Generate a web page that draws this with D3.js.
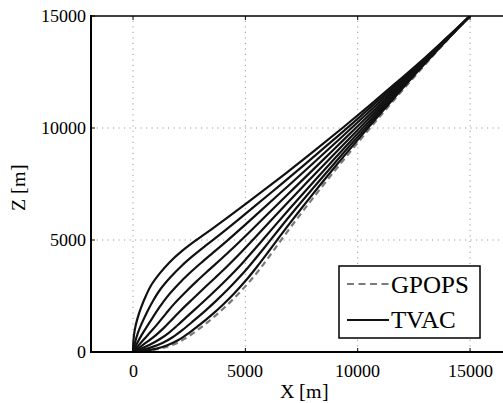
<!DOCTYPE html>
<html>
<head>
<meta charset="utf-8">
<script src="https://cdn.jsdelivr.net/npm/d3@7"></script>
<style>
  @font-face { font-family: "LocSerif"; src: local("Liberation Serif"), local("LiberationSerif"), local("LiberationSerif-Regular"); }
  html, body { margin: 0; padding: 0; background: #fff; }
  svg { display: block; }
  svg text { font-family: "LocSerif", "Liberation Serif", serif; }
</style>
</head>
<body>
<svg id="chart" width="503" height="403"></svg>
<script>
// ---- data ----
const xTicks = [0, 5000, 10000, 15000];
const zTicks = [0, 5000, 10000, 15000];
const xLabel = "X [m]";
const zLabel = "Z [m]";
const legendLabels = ["GPOPS", "TVAC"];

// TVAC trajectories, [X, Z] in metres, top (steep start) to bottom (shallow start)
const tvac1 = [[0,0],[18,500],[80,1000],[200,1500],[365,2000],[570,2500],[820,3000],[1180,3500],[1620,4000],[2170,4500],[2820,5000],[3520,5500],[4200,6000],[5530,7000],[6830,8000],[8090,9000],[9320,10000],[10520,11000],[11690,12000],[12840,13000],[13930,14000],[15000,15000]];
const tvac2 = [[0,0],[87,413],[225,875],[414,1336],[639,1811],[900,2300],[1210,2790],[1664,3336],[2159,3841],[2690,4310],[3244,4756],[3807,5193],[4636,5864],[5458,6542],[6549,7451],[7634,8366],[8710,9290],[9780,10220],[11106,11394],[12421,12579],[13717,13783],[15000,15000]];
const tvac3 = [[0,0],[157,343],[367,733],[616,1134],[889,1561],[1187,2013],[1526,2474],[1997,3003],[2498,3502],[3025,3975],[3564,4436],[4105,4895],[4900,5600],[5688,6312],[6737,7263],[7785,8215],[8828,9172],[9868,10132],[11163,11337],[12452,12548],[13728,13772],[15000,15000]];
const tvac4 = [[0,0],[227,273],[508,592],[817,933],[1139,1311],[1474,1726],[1840,2160],[2331,2669],[2838,3162],[3358,3642],[3883,4117],[4403,4597],[5165,5335],[5918,6082],[6925,7075],[7936,8064],[8946,9054],[9957,10043],[11220,11280],[12482,12518],[13739,13761],[15000,15000]];
const tvac5 = [[0,0],[292,208],[640,460],[1006,744],[1373,1077],[1743,1457],[2136,1864],[2644,2356],[3156,2844],[3672,3328],[4183,3817],[4683,4317],[5413,5087],[6134,5866],[7101,6899],[8077,7923],[9056,8944],[10040,9960],[11274,11226],[12511,12489],[13750,13750],[15000,15000]];
const tvac6 = [[0,0],[353,147],[764,336],[1182,568],[1592,858],[1994,1206],[2411,1589],[2935,2065],[3453,2547],[3964,3036],[4462,3538],[4944,4056],[5644,4856],[6335,5665],[7266,6734],[8209,7791],[9160,8840],[10117,9883],[11323,11177],[12538,12462],[13759,13741],[15000,15000]];
const tvac7 = [[0,0],[406,94],[870,230],[1333,417],[1779,671],[2209,991],[2648,1352],[3186,1814],[3708,2292],[4214,2786],[4701,3299],[5168,3832],[5843,4657],[6508,5492],[7407,6593],[8323,7677],[9248,8752],[10184,9816],[11366,11134],[12561,12439],[13768,13732],[15000,15000]];
const tvac8 = [[0,0],[500,51],[1000,139],[1500,287],[2000,522],[2500,857],[3000,1240],[3500,1656],[4000,2112],[4500,2612],[5000,3166],[5500,3784],[6000,4442],[6500,5115],[7000,5774],[7500,6418],[8000,7049],[9000,8279],[10000,9471],[11000,10634],[12000,11770],[13000,12886],[14000,13967],[15000,15000]];
// GPOPS reference solution
const gpops = [[0,0],[500,40],[1000,110],[1500,230],[2000,420],[2500,720],[3000,1080],[3500,1480],[4000,1920],[4500,2400],[5000,2930],[5500,3520],[6000,4180],[6500,4870],[7000,5550],[7500,6210],[8000,6860],[9000,8120],[10000,9340],[11000,10530],[12000,11690],[13000,12830],[14000,13940],[15000,15000]];

const tvacSeries = [tvac1, tvac2, tvac3, tvac4, tvac5, tvac6, tvac7, tvac8];

// ---- layout ----
const FONT = '"LocSerif", "Liberation Serif", serif';
const svg = d3.select("#chart");
const x = d3.scaleLinear().domain([-1870, 17000]).range([91, 515]);
const z = d3.scaleLinear().domain([0, 15000]).range([352, 16]);
const [xl, xr] = x.range();
const [zb, zt] = z.range();

const clipId = "plotclip";
svg.append("clipPath").attr("id", clipId)
  .append("rect").attr("x", xl).attr("y", zt).attr("width", xr - xl).attr("height", zb - zt);

// grid (dotted)
const grid = svg.append("g").attr("stroke", "#9a9a9a").attr("stroke-width", 1)
  .attr("stroke-dasharray", "1.2,4.3");
xTicks.forEach(t => {
  grid.append("line").attr("x1", x(t)).attr("x2", x(t)).attr("y1", zb).attr("y2", zt);
});
zTicks.filter(t => t > 0 && t < 15000).forEach(t => {
  grid.append("line").attr("x1", xl).attr("x2", xr).attr("y1", z(t)).attr("y2", z(t));
});

// inner tick marks
const ticks = svg.append("g").attr("stroke", "#000").attr("stroke-width", 1);
xTicks.forEach(t => {
  ticks.append("line").attr("x1", x(t)).attr("x2", x(t)).attr("y1", zb).attr("y2", zb - 4);
  ticks.append("line").attr("x1", x(t)).attr("x2", x(t)).attr("y1", zt).attr("y2", zt + 4);
});
zTicks.forEach(t => {
  ticks.append("line").attr("x1", xl).attr("x2", xl + 4).attr("y1", z(t)).attr("y2", z(t));
});

// curves
const line = d3.line().x(d => x(d[0])).y(d => z(d[1])).curve(d3.curveCatmullRom.alpha(0.5));
const plot = svg.append("g").attr("clip-path", `url(#${clipId})`);
plot.append("path").datum(gpops).attr("d", line)
  .attr("fill", "none").attr("stroke", "#7a7a7a").attr("stroke-width", 2.2)
  .attr("stroke-dasharray", "6,4");
plot.selectAll("path.tvac").data(tvacSeries).join("path").attr("class", "tvac")
  .attr("d", line).attr("fill", "none").attr("stroke", "#111").attr("stroke-width", 2.2)
  .attr("stroke-linejoin", "round");

// frame
const frame = svg.append("g").attr("stroke", "#000").attr("fill", "none");
frame.append("line").attr("x1", xl).attr("x2", xl).attr("y1", zb + 1).attr("y2", zt - 1).attr("stroke-width", 2);
frame.append("line").attr("x1", xl - 1).attr("x2", xr).attr("y1", zb).attr("y2", zb).attr("stroke-width", 2);
frame.append("line").attr("x1", xl - 1).attr("x2", xr).attr("y1", zt).attr("y2", zt).attr("stroke-width", 1.6);

// tick labels
svg.selectAll("text.xt").data(xTicks).join("text").attr("class", "xt")
  .style("font-family", FONT)
  .attr("x", d => x(d)).attr("y", 377).attr("text-anchor", "middle")
  .attr("font-size", 18).text(d => d);
svg.selectAll("text.zt").data(zTicks).join("text").attr("class", "zt")
  .style("font-family", FONT)
  .attr("x", 86).attr("y", d => z(d) + 6).attr("text-anchor", "end")
  .attr("font-size", 18).text(d => d);

// axis labels
svg.append("text").style("font-family", FONT).attr("x", 304).attr("y", 398).attr("text-anchor", "middle")
  .attr("font-size", 20).text(xLabel);
svg.append("text").style("font-family", FONT).attr("transform", `translate(25,${(zb + zt) / 2 + 3}) rotate(-90)`)
  .attr("text-anchor", "middle").attr("font-size", 20).text(zLabel);

// legend
lgRect = svg.append("rect").attr("x", 339).attr("y", 266).attr("width", 141).attr("height", 72)
  .attr("fill", "#fff").attr("stroke", "#000").attr("stroke-width", 1.5);
svg.append("line").attr("x1", 347).attr("x2", 389).attr("y1", 284).attr("y2", 284)
  .attr("stroke", "#7a7a7a").attr("stroke-width", 2.2).attr("stroke-dasharray", "7,4.5");
svg.append("line").attr("x1", 347).attr("x2", 389).attr("y1", 320).attr("y2", 320)
  .attr("stroke", "#111").attr("stroke-width", 2.2);
svg.append("text").style("font-family", FONT).attr("x", 391).attr("y", 293).attr("font-size", 25).text(legendLabels[0]);
svg.append("text").style("font-family", FONT).attr("x", 391).attr("y", 328).attr("font-size", 25).text(legendLabels[1]);
</script>
</body>
</html>
